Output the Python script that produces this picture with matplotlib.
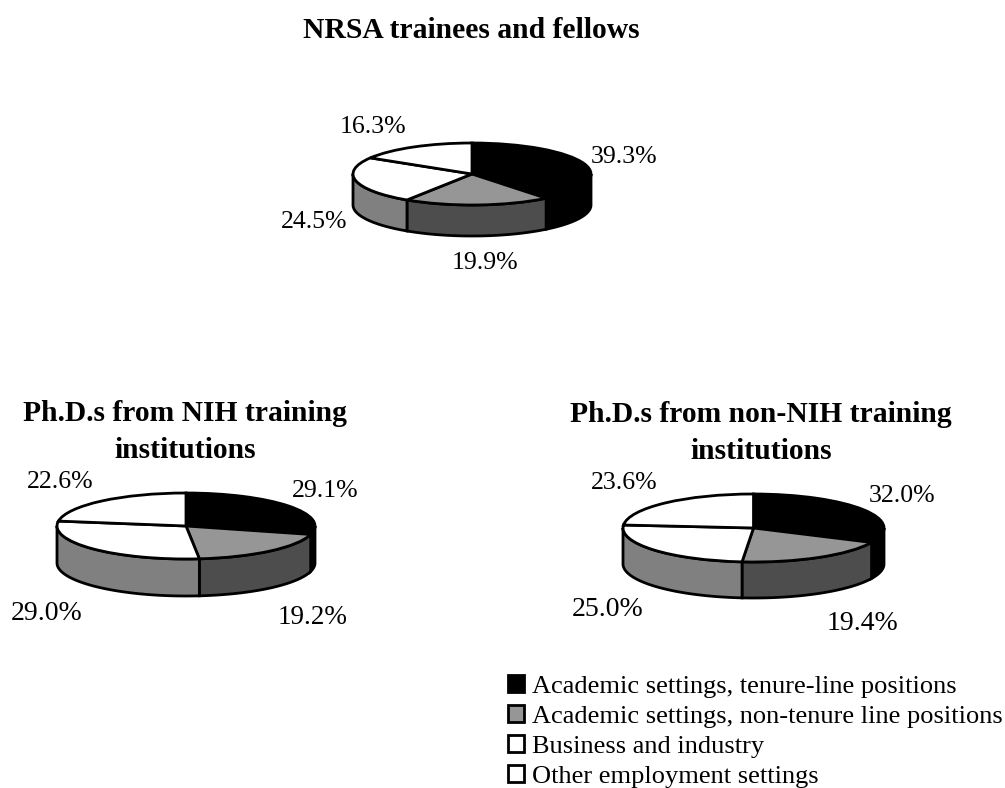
import numpy as np
import matplotlib
matplotlib.use("Agg")
import matplotlib.pyplot as plt
from matplotlib.patches import Patch

W, H = 1005, 788
plt.rcParams["font.family"] = ["Liberation Serif", "DejaVu Serif"]

categories = [
    "Academic settings, tenure-line positions",
    "Academic settings, non-tenure line positions",
    "Business and industry",
    "Other employment settings",
]
nrsa_values = [39.3, 19.9, 24.5, 16.3]
nih_values = [29.1, 19.2, 29.0, 22.6]
non_nih_values = [32.0, 19.4, 25.0, 23.6]

top_colors = ["#000000", "#969696", "#ffffff", "#ffffff"]
wall_colors = ["#000000", "#4d4d4d", "#808080", "#808080"]


def px(x, y):
    return x / W, 1 - y / H


def draw_pie(values, cx, cy, rx, ry, depth, label_pos, label_sizes):
    # axes covers the top face ellipse, so the pie squashes with it
    ax = fig.add_axes([(cx - rx) / W, 1 - (cy + ry) / H, 2 * rx / W, 2 * ry / H])
    wedges, _ = ax.pie(values, colors=top_colors, startangle=90, counterclock=False,
                       wedgeprops={"edgecolor": "black", "linewidth": 2})
    ax.set_aspect("auto")
    ax.set_xlim(-1, 1)
    ax.set_ylim(-1, 1)
    for w in wedges:
        w.set_clip_on(False)

    # side wall of the front half
    d = depth / ry
    edges = np.cumsum([0] + list(values)) / sum(values) * 360
    for i in range(len(values)):
        a = max(edges[i], 90)
        b = min(edges[i + 1], 270)
        if b <= a:
            continue
        t = np.radians(np.linspace(a, b, 60))
        xs = np.sin(t)
        ys = np.cos(t)
        ax.fill(np.r_[xs, xs[::-1]], np.r_[ys, ys[::-1] - d], facecolor=wall_colors[i],
                edgecolor="black", linewidth=2, zorder=0.5, clip_on=False)

    for v, (x, y), s in zip(values, label_pos, label_sizes):
        fig.text(*px(x, y), f"{v:.1f}%", fontsize=s, ha="center", va="center")


fig = plt.figure(figsize=(W / 100, H / 100), dpi=100)

draw_pie(nrsa_values, 472, 174, 119, 31, 31,
         [(624, 157), (485, 263), (314, 222), (373, 127)], [18.5, 18.5, 18.5, 18.5])
draw_pie(nih_values, 186, 526, 129, 33, 37,
         [(325, 491), (313, 617), (47, 613), (60, 482)], [18.5, 19.5, 20, 18.5])
draw_pie(non_nih_values, 753.5, 528, 130.5, 34, 36,
         [(902, 496), (862, 623), (608, 610), (624, 483)], [18.5, 20, 20, 18.5])

title_size = 21.3
fig.text(*px(471, 31), "NRSA trainees and fellows", fontsize=title_size, fontweight="bold",
         ha="center", va="center")
fig.text(*px(185, 432), "Ph.D.s from NIH training\ninstitutions", fontsize=title_size,
         fontweight="bold", ha="center", va="center", linespacing=1.5)
fig.text(*px(761, 433), "Ph.D.s from non-NIH training\ninstitutions", fontsize=title_size,
         fontweight="bold", ha="center", va="center", linespacing=1.5)

handles = [Patch(facecolor=c, edgecolor="black", linewidth=2) for c in
           ["#000000", "#969696", "#ffffff", "#ffffff"]]
fig.legend(handles, categories, loc="lower left", bbox_to_anchor=px(507.5, 788),
           frameon=False, fontsize=19, handlelength=0.64, handleheight=0.64,
           handletextpad=0.3, labelspacing=0.27, borderpad=0, borderaxespad=0)

fig.savefig("out.png", dpi=100)
